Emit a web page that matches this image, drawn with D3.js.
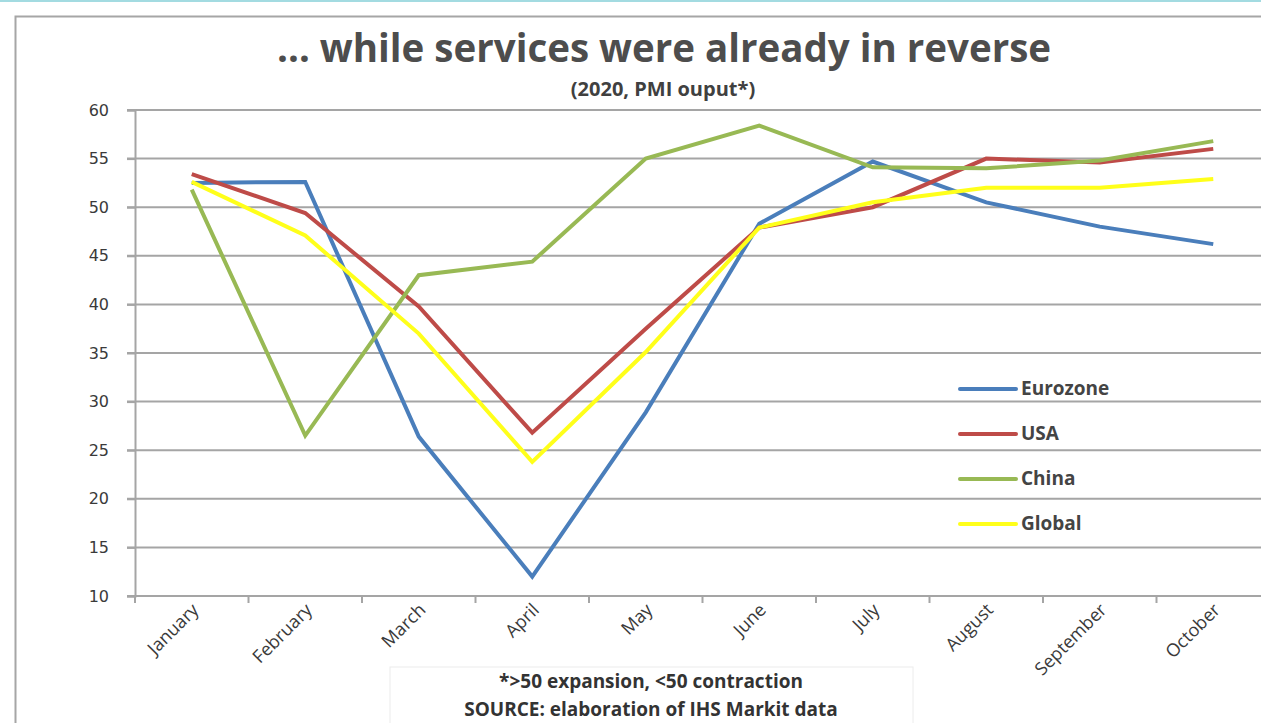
<!DOCTYPE html>
<html>
<head>
<meta charset="utf-8">
<script src="https://cdn.jsdelivr.net/npm/d3@7"></script>
<style>
  body { margin: 0; background: #fff; overflow: hidden; }
</style>
</head>
<body>
<script>
// chart data
var months = ['January', 'February', 'March', 'April', 'May', 'June', 'July', 'August', 'September', 'October'];
var eurozone = [52.5, 52.6, 26.4, 12.0, 28.9, 48.3, 54.7, 50.5, 48.0, 46.2];
var usa      = [53.4, 49.4, 39.8, 26.8, 37.5, 47.9, 50.0, 55.0, 54.6, 56.0];
var china    = [51.8, 26.5, 43.0, 44.4, 55.0, 58.4, 54.1, 54.0, 54.8, 56.8];
var global   = [52.6, 47.1, 37.0, 23.8, 35.1, 47.9, 50.5, 52.0, 52.0, 52.9];
var seriesNames = ['Eurozone', 'USA', 'China', 'Global'];
var yTicks = [10, 15, 20, 25, 30, 35, 40, 45, 50, 55, 60];

var width = 1261, height = 723;
var font = '"Open Sans", "Noto Sans", sans-serif';
var colors = { Eurozone: '#4a7ebb', USA: '#be4b48', China: '#98b954', Global: '#ffff1a' };

var series = [eurozone, usa, china, global].map(function(vals, i) {
  return { name: seriesNames[i], values: vals };
});

var svg = d3.select('body').append('svg')
  .attr('width', width)
  .attr('height', height);

// top accent line + chart frame
svg.append('rect').attr('x', 0).attr('y', 0).attr('width', width).attr('height', 2).attr('fill', '#a3dbe1');
svg.append('rect')
  .attr('x', 15.5).attr('y', 16.5)
  .attr('width', width).attr('height', height)
  .attr('fill', 'none').attr('stroke', '#a6a6a6').attr('stroke-width', 2);

// scales - the plot runs off the right edge like the screenshot
var x = d3.scaleBand().domain(months).range([135, 135 + 113.5 * months.length]);
var y = d3.scaleLinear().domain([10, 60]).range([596, 110]);

// gridlines
svg.append('g')
  .selectAll('line')
  .data(yTicks)
  .enter().append('line')
  .attr('x1', 127).attr('x2', width)
  .attr('y1', d => y(d)).attr('y2', d => y(d))
  .attr('stroke', '#a5a5a5').attr('stroke-width', 2);

// y axis
var yAxis = svg.append('g')
  .attr('transform', 'translate(135,0)')
  .call(d3.axisLeft(y).tickValues(yTicks).tickSize(8).tickPadding(18));
yAxis.select('.domain').attr('stroke', '#a5a5a5').attr('stroke-width', 2);
yAxis.selectAll('.tick line').attr('stroke', '#a5a5a5').attr('stroke-width', 2);
yAxis.attr('font-family', '"DejaVu Sans", Verdana, sans-serif').attr('font-size', 16);
yAxis.selectAll('.tick text').attr('fill', '#3a3a3a');

// x axis ticks at band boundaries
var xAxisG = svg.append('g');
xAxisG.selectAll('line')
  .data(months)
  .enter().append('line')
  .attr('x1', d => x(d) + x.bandwidth()).attr('x2', d => x(d) + x.bandwidth())
  .attr('y1', 596).attr('y2', 603)
  .attr('stroke', '#a5a5a5').attr('stroke-width', 2);
xAxisG.append('line')
  .attr('x1', 135).attr('x2', 135).attr('y1', 596).attr('y2', 603)
  .attr('stroke', '#a5a5a5').attr('stroke-width', 2);

xAxisG.selectAll('text')
  .data(months)
  .enter().append('text')
  .attr('transform', d => 'translate(' + (x(d) + x.bandwidth() / 2 + 8) + ',611) rotate(-45)')
  .attr('text-anchor', 'end')
  .attr('font-family', font)
  .attr('font-size', 18)
  .attr('fill', '#3a3a3a')
  .text(d => d);

// lines
var line = d3.line()
  .x((d, i) => x(months[i]) + x.bandwidth() / 2)
  .y(d => y(d));

svg.append('g')
  .selectAll('path')
  .data(series)
  .enter().append('path')
  .attr('d', d => line(d.values))
  .attr('fill', 'none')
  .attr('stroke', d => colors[d.name])
  .attr('stroke-width', 4)
  .attr('stroke-linejoin', 'miter');

// legend
var legend = svg.append('g')
  .selectAll('g')
  .data(seriesNames)
  .enter().append('g')
  .attr('transform', (d, i) => 'translate(960,' + (389 + i * 45) + ')');
legend.append('line')
  .attr('x1', 0).attr('x2', 56)
  .attr('stroke', d => colors[d]).attr('stroke-width', 4).attr('stroke-linecap', 'round');
legend.append('text')
  .attr('x', 61).attr('y', 6)
  .attr('font-family', font)
  .attr('font-size', 19).attr('font-weight', 'bold').attr('fill', '#444')
  .text(d => d);

// title
svg.append('text')
  .attr('x', 664).attr('y', 62)
  .attr('text-anchor', 'middle')
  .attr('font-family', font)
  .attr('font-size', 38.5).attr('font-weight', 'bold').attr('fill', '#4d4d4d')
  .text('\u2026 while services were already in reverse');
svg.append('text')
  .attr('x', 663).attr('y', 96)
  .attr('text-anchor', 'middle')
  .attr('font-family', font)
  .attr('font-size', 20).attr('font-weight', 'bold').attr('fill', '#404040')
  .text('(2020, PMI ouput*)');

// footnote box
svg.append('rect')
  .attr('x', 390).attr('y', 667).attr('width', 523).attr('height', 70)
  .attr('fill', '#fff').attr('stroke', '#ececec').attr('stroke-width', 1);
svg.append('text')
  .attr('x', 651).attr('y', 688)
  .attr('text-anchor', 'middle')
  .attr('font-family', font)
  .attr('font-size', 19).attr('font-weight', 'bold').attr('fill', '#333')
  .text('*>50 expansion, <50 contraction');
svg.append('text')
  .attr('x', 651).attr('y', 716)
  .attr('text-anchor', 'middle')
  .attr('font-family', font)
  .attr('font-size', 19).attr('font-weight', 'bold').attr('fill', '#333')
  .text('SOURCE: elaboration of IHS Markit data');
</script>
</body>
</html>
